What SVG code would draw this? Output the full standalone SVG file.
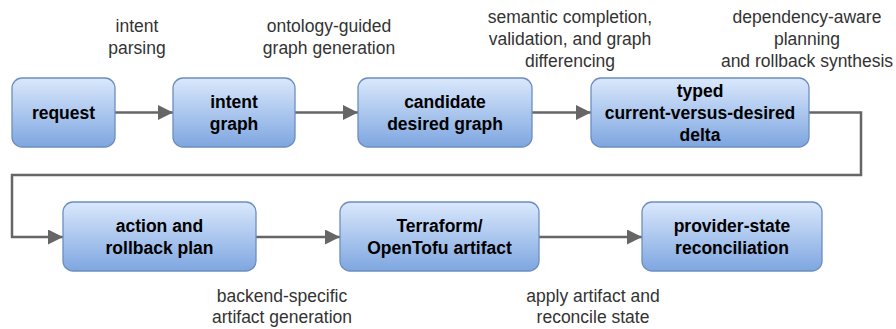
<svg xmlns="http://www.w3.org/2000/svg" width="896" height="329" viewBox="0 0 896 329">
<defs>
<linearGradient id="g" x1="0" y1="0" x2="0" y2="1">
<stop offset="0" stop-color="#dae8fc"/>
<stop offset="1" stop-color="#7ea6e0"/>
</linearGradient>
<marker id="arr" viewBox="0 0 10 10" refX="10" refY="5" markerWidth="6" markerHeight="6" markerUnits="strokeWidth" orient="auto">
<path d="M0,0 L10,5 L0,10 Z" fill="#666666"/>
</marker>
</defs>
<style>
.box{fill:url(#g);stroke:#6c8ebf;stroke-width:1.3}
.nt{font-family:"Liberation Sans",Arial,sans-serif;font-weight:bold;font-size:17.5px;fill:#000;text-anchor:middle}
.lb{font-family:"Liberation Sans",Arial,sans-serif;font-size:17.5px;fill:#333;text-anchor:middle}
.c{fill:none;stroke:#666666;stroke-width:2.5;marker-end:url(#arr)}
</style>
<g id="connectors">
<path class="c" d="M115,112.5 L173,112.5"/>
<path class="c" d="M295,112.5 L358,112.5"/>
<path class="c" d="M532,112.5 L591,112.5"/>
<path class="c" d="M809,112.5 L861,112.5 L861,175 L12,175 L12,237 L63,237"/>
<path class="c" d="M256,237 L340,237"/>
<path class="c" d="M539,237 L642,237"/>
</g>
<g id="labels">
<text class="lb" x="137" y="32">intent</text>
<text class="lb" x="137" y="54">parsing</text>
<text class="lb" x="329" y="32">ontology-guided</text>
<text class="lb" x="329" y="54">graph generation</text>
<text class="lb" x="570" y="23">semantic completion,</text>
<text class="lb" x="570" y="45">validation, and graph</text>
<text class="lb" x="570" y="67">differencing</text>
<text class="lb" x="807" y="23">dependency-aware</text>
<text class="lb" x="807" y="45">planning</text>
<text class="lb" x="807" y="67">and rollback synthesis</text>
<text class="lb" x="282" y="302">backend-specific</text>
<text class="lb" x="282" y="323">artifact generation</text>
<text class="lb" x="593" y="302">apply artifact and</text>
<text class="lb" x="593" y="323">reconcile state</text>
</g>
<g id="request">
<rect class="box" x="12" y="78" width="103" height="69" rx="10"/>
<text class="nt" x="63.5" y="118.5">request</text>
</g>
<g id="intent-graph">
<rect class="box" x="173" y="78" width="122" height="69" rx="10"/>
<text class="nt" x="234" y="107.5">intent</text>
<text class="nt" x="234" y="129.5">graph</text>
</g>
<g id="candidate-desired-graph">
<rect class="box" x="358" y="78" width="174" height="69" rx="10"/>
<text class="nt" x="445" y="107.5">candidate</text>
<text class="nt" x="445" y="129.5">desired graph</text>
</g>
<g id="typed-delta">
<rect class="box" x="591" y="78" width="218" height="69" rx="10"/>
<text class="nt" x="700" y="96.5">typed</text>
<text class="nt" x="700" y="118.5">current-versus-desired</text>
<text class="nt" x="700" y="140.5">delta</text>
</g>
<g id="action-rollback-plan">
<rect class="box" x="63" y="202" width="193" height="69" rx="10"/>
<text class="nt" x="159.5" y="231.5">action and</text>
<text class="nt" x="159.5" y="253.5">rollback plan</text>
</g>
<g id="terraform-artifact">
<rect class="box" x="340" y="202" width="199" height="69" rx="10"/>
<text class="nt" x="439.5" y="231.5">Terraform/</text>
<text class="nt" x="439.5" y="253.5">OpenTofu artifact</text>
</g>
<g id="provider-state-reconciliation">
<rect class="box" x="642" y="202" width="180" height="69" rx="10"/>
<text class="nt" x="732" y="231.5">provider-state</text>
<text class="nt" x="732" y="253.5">reconciliation</text>
</g>
</svg>
